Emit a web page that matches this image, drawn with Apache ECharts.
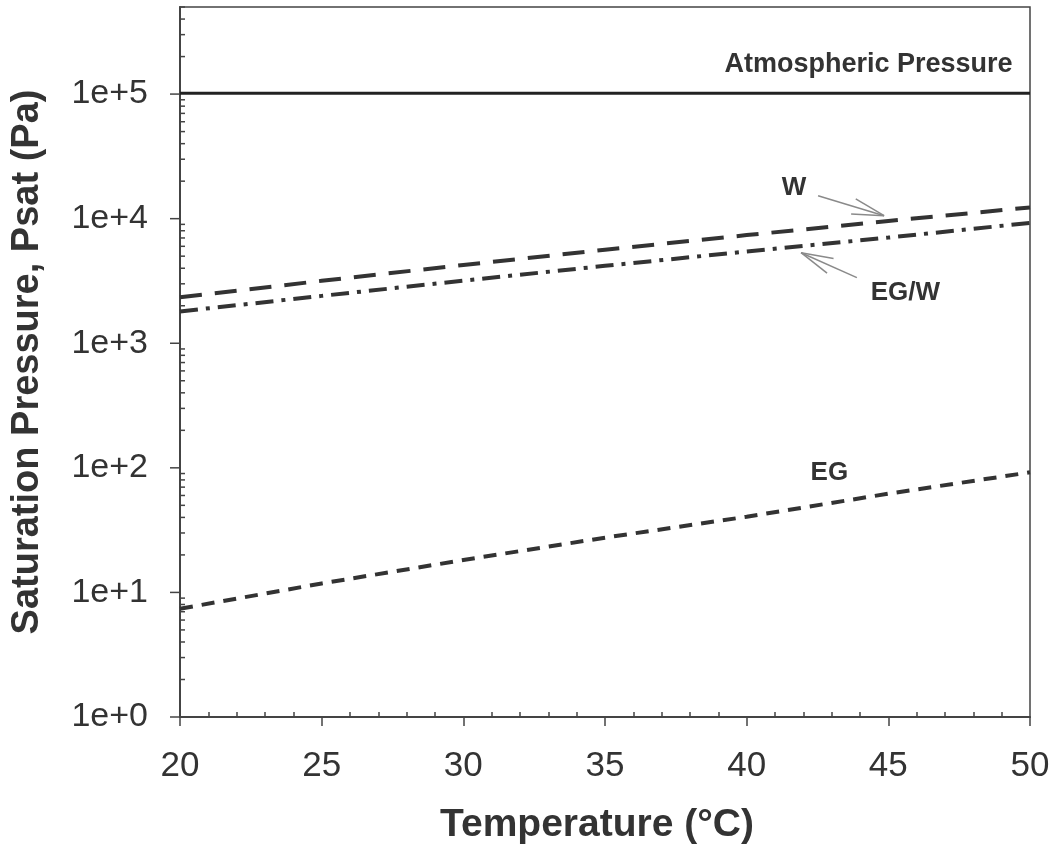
<!DOCTYPE html>
<html>
<head>
<meta charset="utf-8">
<title>Saturation Pressure vs Temperature</title>
<script src="https://cdn.jsdelivr.net/npm/echarts@6/dist/echarts.min.js"></script>
<style>
  html, body { margin: 0; padding: 0; background: #ffffff; }
  #chart { width: 1057px; height: 851px; }
</style>
</head>
<body>
<div id="chart"></div>
<script>
// Temperatures (°C) at which the saturation pressures are given
const temperatures = [20, 25, 30, 35, 40, 45, 50];

// Saturation pressure (Pa)
const waterPsat = [2340, 3170, 4250, 5630, 7380, 9590, 12300];
const mixturePsat = [1800, 2400, 3180, 4180, 5450, 7050, 9250];
const glycolPsat = [7.4, 11.8, 18.2, 27.5, 40.5, 62, 92];

// Atmospheric pressure reference (Pa)
const atmosphericPressure = 101325;

// Decade ticks of the pressure axis
const yMajorTicks = [1, 10, 100, 1000, 10000, 100000];

// Text annotations: [temperature, pressure, text, font size]
const annotations = [
  [44.3, 171500, 'Atmospheric Pressure', 27],
  [41.67, 17700, 'W', 26],
  [45.6, 2546, 'EG/W', 26],
  [42.92, 91.7, 'EG', 26]
];

// Pointer arrows: [tailT, tailP, headT, headP]
const arrows = [
  [42.52, 15270, 44.85, 10560],
  [43.89, 3360, 41.92, 5330]
];

// Intermediate ticks of the log axis (2..9 within each decade, up to the axis top)
const yMinorTicks = [];
for (let d = 0; d <= 5; d++) {
  for (let m = 2; m <= 9; m++) {
    const v = m * Math.pow(10, d);
    if (v <= 500000) yMinorTicks.push(v);
  }
}

const ink = '#333333';
const axisInk = '#444444';

const pairs = (ys) => temperatures.map((t, i) => [t, ys[i]]);

const chart = echarts.init(document.getElementById('chart'), null, { renderer: 'canvas' });

chart.setOption({
  backgroundColor: '#ffffff',
  animation: false,
  textStyle: { fontFamily: 'Liberation Sans, Arial, sans-serif' },
  grid: {
    left: 180, right: 27, top: 7, bottom: 134,
    show: true, borderColor: axisInk, borderWidth: 1.5, backgroundColor: 'transparent'
  },
  xAxis: [
    {
      type: 'value', min: 20, max: 50, interval: 5,
      position: 'bottom',
      name: 'Temperature (°C)', nameLocation: 'middle', nameGap: 89,
      nameTextStyle: { fontSize: 39, fontWeight: 'bold', color: ink, fontFamily: 'Liberation Sans', padding: [0, 16, 0, 0] },
      axisLine: { show: true, lineStyle: { color: axisInk, width: 2 } },
      axisTick: { show: true, length: 9, lineStyle: { color: axisInk, width: 1.5 } },
      axisLabel: { fontSize: 35, color: ink, margin: 32, fontFamily: 'Liberation Sans' },
      splitLine: { show: false }
    },
    {
      type: 'value', min: 20, max: 50, interval: 5,
      position: 'bottom',
      axisLine: { show: false },
      axisTick: { show: false, inside: true },
      minorTick: { show: true, splitNumber: 5, length: 5, lineStyle: { color: axisInk, width: 1.5 } },
      axisLabel: { show: false },
      splitLine: { show: false }
    }
  ],
  yAxis: {
    type: 'log', logBase: 10, min: 1, max: 500000,
    name: 'Saturation Pressure, Psat (Pa)', nameLocation: 'middle', nameGap: 133,
    nameTextStyle: { fontSize: 38, fontWeight: 'bold', color: ink, fontFamily: 'Liberation Sans' },
    axisLine: { show: true, lineStyle: { color: axisInk, width: 2 } },
    axisTick: { show: false },
    axisLabel: {
      fontSize: 34, color: ink, margin: 32, fontFamily: 'Liberation Sans',
      formatter: function (v) {
        const e = Math.log10(v);
        const r = Math.round(e);
        return Math.abs(e - r) < 1e-6 ? '1e+' + r : '';
      }
    },
    splitLine: { show: false }
  },
  series: [
    {
      name: 'Atmospheric Pressure', type: 'line', showSymbol: false, symbol: 'none',
      data: [[20, atmosphericPressure], [50, atmosphericPressure]],
      lineStyle: { color: '#222222', width: 3, type: 'solid' }, z: 3
    },
    {
      name: 'W', type: 'line', showSymbol: false, symbol: 'none', smooth: false,
      data: pairs(waterPsat),
      lineStyle: { color: ink, width: 4, type: [22, 13], cap: 'butt' }, z: 3
    },
    {
      name: 'EG/W', type: 'line', showSymbol: false, symbol: 'none', smooth: false,
      data: pairs(mixturePsat),
      lineStyle: { color: ink, width: 4, type: [18, 8, 4, 8], cap: 'butt' }, z: 3
    },
    {
      name: 'EG', type: 'line', showSymbol: false, symbol: 'none', smooth: false,
      data: pairs(glycolPsat),
      lineStyle: { color: ink, width: 4, type: [13, 9], cap: 'butt' }, z: 3
    },
    {
      // outward decade ticks on the pressure axis
      name: 'yMajorTicks', type: 'custom', coordinateSystem: 'cartesian2d', silent: true, clip: false,
      data: yMajorTicks.map(v => [20, v]),
      renderItem: function (params, api) {
        const p = api.coord([api.value(0), api.value(1)]);
        return { type: 'line', shape: { x1: p[0] - 10, y1: p[1], x2: p[0], y2: p[1] },
                 style: { stroke: axisInk, lineWidth: 1.5 } };
      }, z: 4
    },
    {
      // inward intermediate ticks on the pressure axis
      name: 'yMinorTicks', type: 'custom', coordinateSystem: 'cartesian2d', silent: true, clip: false,
      data: yMinorTicks.map(v => [20, v]),
      renderItem: function (params, api) {
        const p = api.coord([api.value(0), api.value(1)]);
        return { type: 'line', shape: { x1: p[0], y1: p[1], x2: p[0] + 5, y2: p[1] },
                 style: { stroke: axisInk, lineWidth: 1.5 } };
      }, z: 4
    },
    {
      name: 'arrows', type: 'custom', coordinateSystem: 'cartesian2d', silent: true,
      data: arrows,
      renderItem: function (params, api) {
        const a = api.coord([api.value(0), api.value(1)]);
        const b = api.coord([api.value(2), api.value(3)]);
        const ang = Math.atan2(a[1] - b[1], a[0] - b[0]);
        const len = 33, spread = 14 * Math.PI / 180;
        const h1 = [b[0] + len * Math.cos(ang + spread), b[1] + len * Math.sin(ang + spread)];
        const h2 = [b[0] + len * Math.cos(ang - spread), b[1] + len * Math.sin(ang - spread)];
        const st = { stroke: '#8a8a8a', lineWidth: 1.5 };
        return {
          type: 'group',
          children: [
            { type: 'line', shape: { x1: a[0], y1: a[1], x2: b[0], y2: b[1] }, style: st },
            { type: 'line', shape: { x1: h1[0], y1: h1[1], x2: b[0], y2: b[1] }, style: st },
            { type: 'line', shape: { x1: h2[0], y1: h2[1], x2: b[0], y2: b[1] }, style: st }
          ]
        };
      }, z: 5
    },
    {
      name: 'labels', type: 'custom', coordinateSystem: 'cartesian2d', silent: true,
      data: annotations,
      renderItem: function (params, api) {
        const p = api.coord([api.value(0), api.value(1)]);
        const item = annotations[params.dataIndex];
        return {
          type: 'text',
          x: p[0], y: p[1],
          style: {
            text: item[2], fill: ink, align: 'center', verticalAlign: 'middle',
            font: 'bold ' + item[3] + 'px "Liberation Sans", Arial, sans-serif'
          }
        };
      }, z: 6
    }
  ]
});
</script>
</body>
</html>
